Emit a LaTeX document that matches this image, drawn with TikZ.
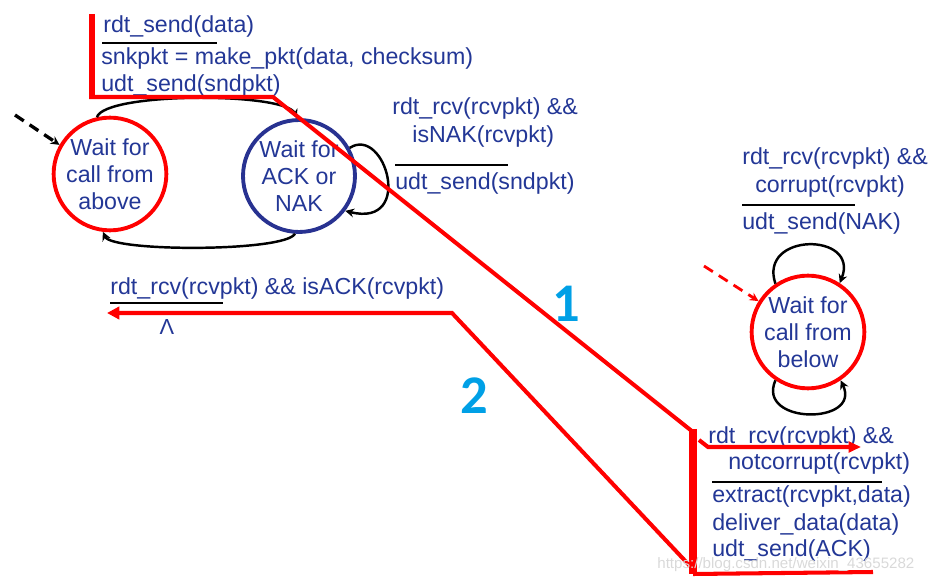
\documentclass[tikz,border=0pt]{standalone}
\usepackage{fontspec}
\setmainfont{Liberation Sans}
\newfontfamily\numfont{Carlito}
\usetikzlibrary{arrows.meta}

\definecolor{txtblue}{RGB}{35,55,150}
\definecolor{ringblue}{RGB}{40,50,145}
\definecolor{numcyan}{RGB}{0,160,230}

\tikzset{
  lbl/.style={anchor=base west, inner sep=0pt, text=txtblue, font=\fontsize{13.2}{15.5}\selectfont},
  fsm/.style={circle, inner sep=0pt, align=center, text=txtblue, line width=2.2pt,
    font=\fontsize{13.2}{15.4}\selectfont},
  bar/.style={line width=1.7pt, black},
  trans/.style={line width=1.4pt, -{Stealth[length=5pt,width=5pt]}},
  hot/.style={red, line width=2.3pt},
  num/.style={text=numcyan, font=\numfont\bfseries\fontsize{31}{31}\selectfont}
}

\begin{document}
\begin{tikzpicture}[x=0.02cm,y=-0.02cm]
\useasboundingbox (0,0) rectangle (938,581);
%%%%%%%%% sender
\node[fsm, draw=red, minimum size=2.2cm] (above) at (110,174) {Wait for\\call from\\above};
\node[fsm, draw=ringblue, minimum size=2.24cm] (acknak) at (299,176) {Wait for\\ACK or\\NAK};

\coordinate (initS) at (15,115);
\draw[trans, line width=1.9pt, dash pattern=on 6pt off 4pt] (initS) -- (above.150);

\draw[trans] (above.103) .. controls (105,92) and (285,92) .. (acknak.92);
\draw[trans] (acknak.266) .. controls (285,252) and (112,252) .. (above.263);
\draw[trans] (acknak.29) .. controls (385,125) and (415,228) .. (acknak.-37);

\node[lbl] (evsend) at (103,33) {rdt\_send(data)};
\draw[bar] (102,43) -- (217,43);
\node[lbl] (mkpkt) at (101,65) {snkpkt = make\_pkt(data, checksum)};
\node[lbl] (sendpkt) at (101,92) {udt\_send(sndpkt)};

\node[lbl] (evnak) at (392,115) {rdt\_rcv(rcvpkt) \&\&};
\node[lbl] (isnak) at (412,143) {isNAK(rcvpkt)};
\draw[bar] (395,165) -- (508,165);
\node[lbl] (resend) at (395,190) {udt\_send(sndpkt)};

\node[lbl] (evack) at (110,295) {rdt\_rcv(rcvpkt) \&\& isACK(rcvpkt)};
\draw[bar] (110,303) -- (223,303);
\node[text=txtblue, inner sep=0pt, font=\fontsize{12.4}{15}\selectfont] (andsym) at (167,327) {Λ};

%%%%%%%%% receiver
\node[fsm, draw=red, minimum size=2.24cm] (below) at (808,332) {Wait for\\call from\\below};

\coordinate (initR) at (704,266);
\draw[trans, red, line width=1.6pt, dash pattern=on 6pt off 4pt] (initR) -- (below.148);

\draw[trans] (below.124) .. controls (758,232) and (860,232) .. (below.57);
\draw[trans] (below.236) .. controls (756,425) and (862,425) .. (below.-56);

\node[lbl] (evcor) at (742,165) {rdt\_rcv(rcvpkt) \&\&};
\node[lbl] (iscor) at (755,193) {corrupt(rcvpkt)};
\draw[bar] (742,205) -- (855,205);
\node[lbl] (sendnak) at (742,230) {udt\_send(NAK)};

\node[lbl] (evok) at (708,443) {rdt\_rcv(rcvpkt) \&\&};
\node[lbl] (isok) at (728,470) {notcorrupt(rcvpkt)};
\draw[bar] (712,482) -- (882,482);
\node[lbl] (extr) at (712,502) {extract(rcvpkt,data)};
\node[lbl] (deliv) at (712,530) {deliver\_data(data)};
\node[lbl] (sendack) at (712,557) {udt\_send(ACK)};

%%%%%%%%% red trace
\coordinate (pA) at (92,14);
\coordinate (pB) at (92,97);
\coordinate (pC) at (273,97);
\coordinate (pD) at (693,432);
\coordinate (pE) at (693,429);
\coordinate (pF) at (693,574);
\coordinate (pG) at (873,572);
\coordinate (pH) at (699,440);
\coordinate (pI) at (708,447);
\coordinate (pJ) at (861,447);
\coordinate (pK) at (690,566);
\coordinate (pL) at (452,313);
\coordinate (pM) at (107,313);

\draw[hot, line width=3.4pt] (pA) -- (pB);
\draw[hot, line join=miter] ([xshift=-1.7pt]pB) -- (pC) -- (pD);
\draw[hot, line width=4.3pt] (pE) -- (pF);
\draw[hot] (pF) -- (pG);
\draw[hot, -{Triangle[length=7pt,width=6pt]}] (pH) -- (pI) -- (pJ);
\draw[hot, -{Triangle[length=7pt,width=7pt]}] (pK) -- (pL) -- (pM);

\node[num] (one) at (566,304) {1};
\node[num] (two) at (474,396) {2};

\node[text=gray!30, inner sep=0pt, anchor=base west, font=\fontsize{8.6}{10}\selectfont] (mark) at (657,568) {https://blog.csdn.net/weixin\_43655282};
\end{tikzpicture}
\end{document}
